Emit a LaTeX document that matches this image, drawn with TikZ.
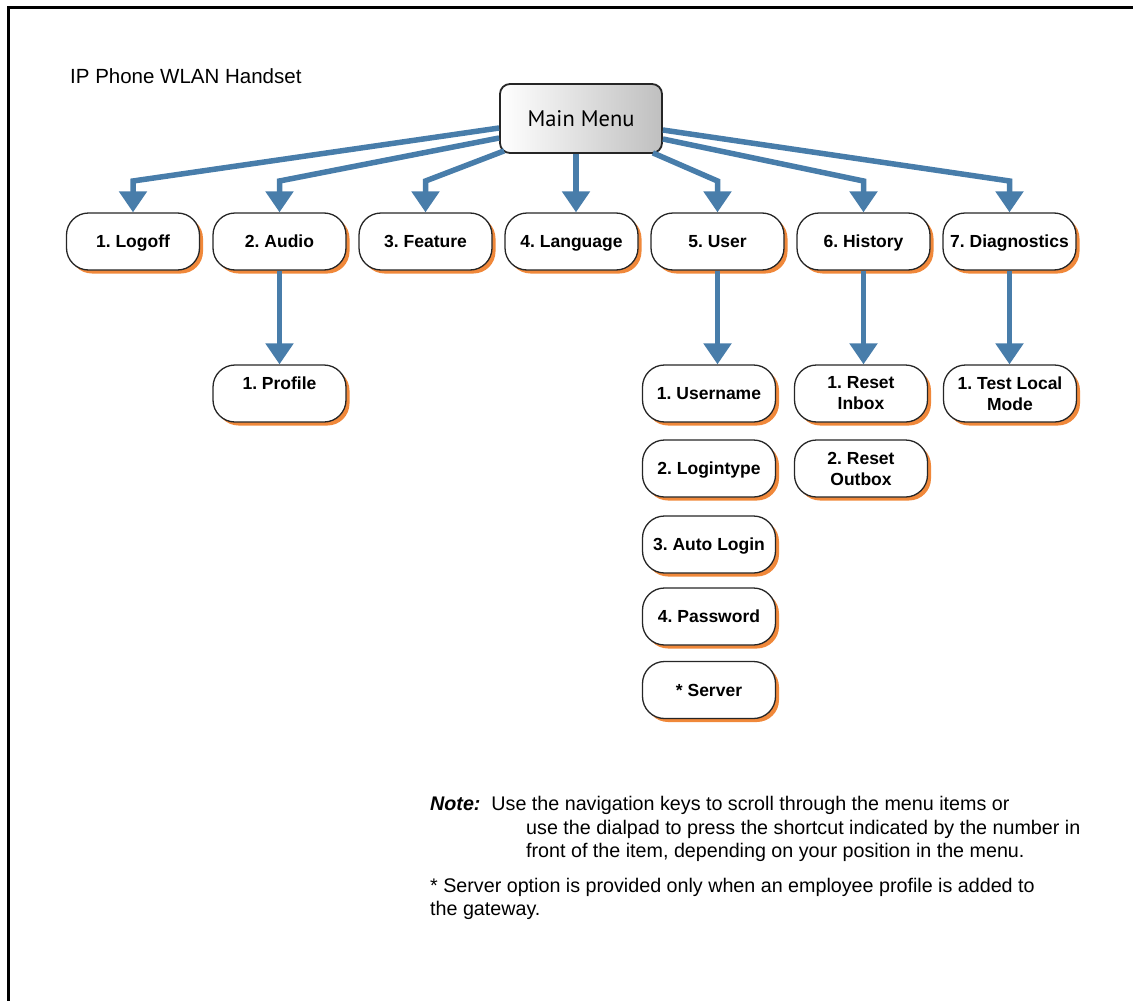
\documentclass[tikz,border=0pt]{standalone}
\usepackage{fontspec}
\setmainfont{Liberation Sans}
\newfontfamily\mmfont{PT Sans}
\usepackage{tikz}
\usetikzlibrary{arrows.meta,shadows,positioning}
\definecolor{linkblue}{RGB}{72,125,170}
\definecolor{boxorange}{RGB}{240,136,58}
\frenchspacing
\tikzset{
  item/.style={draw=black!85, line width=1.3pt, fill=white, rounded corners=22pt,
    minimum width=133pt, minimum height=57pt, inner sep=0pt, align=center,
    font=\bfseries\fontsize{17.5}{21}\selectfont, text height=12.6pt, text depth=0pt,
    drop shadow={shadow xshift=3.5pt, shadow yshift=-3.5pt, fill=boxorange, opacity=1}},
  twoline/.style={item, text height={}, text depth={}},
  mainbox/.style={draw=black!85, line width=1.8pt, rounded corners=10pt,
    left color=white, right color=black!25, minimum width=162pt, minimum height=69pt,
    font=\mmfont\fontsize{22.5}{26}\selectfont},
  link/.style={draw=linkblue, line width=5.5pt, -{Triangle[width=27pt,length=21pt]}},
  notetext/.style={anchor=base west, inner sep=0pt, font=\fontsize{19.7}{23.5}\selectfont},
}
\begin{document}
\begin{tikzpicture}[x=1pt,y=-1pt]
      \useasboundingbox (0,0) rectangle (1133,1001);
      \draw[line width=2.7pt] (8.5,1001) -- (8.5,7.5) -- (1133,7.5);

      \node[anchor=base west, inner sep=0pt, font=\fontsize{20.5}{24}\selectfont] (ttl) at (70,83) {IP Phone WLAN Handset};

      \node[mainbox] (mm) at (581,118.5) {Main Menu};
      \coordinate (k) at (0,181);

      \node[item] (b1) at (133,241.5) {1. Logoff};
      \node[item] (b2) at (279.5,241.5) {2. Audio};
      \node[item] (b3) at (425.5,241.5) {3. Feature};
      \node[item] (b4) at (571.5,241.5) {4. Language};
      \node[item] (b5) at (717.5,241.5) {5. User};
      \node[item] (b6) at (863.5,241.5) {6. History};
      \node[item] (b7) at (1009.5,241.5) {7. Diagnostics};

      \node[twoline] (p1) at (279.5,393.5) {1. Profile\\ \mbox{}};

      \node[item] (u1) at (709,393.5) {1. Username};
      \node[item] (u2) at (709,468.5) {2. Logintype};
      \node[item] (u3) at (709,544.5) {3. Auto Login};
      \node[item] (u4) at (709,616.5) {4. Password};
      \node[item] (u5) at (709,690) {* Server};

      \node[twoline] (h1) at (861,393.5) {1. Reset\\Inbox};
      \node[twoline] (h2) at (861,468.5) {2. Reset\\Outbox};

      \node[twoline] (d1) at (1010,393.5) {1. Test Local\\Mode};

      \draw[link] ([yshift=-9.5pt]mm.west) -- (b1 |- k) -- (b1);
      \draw[link] ([yshift=-19.5pt]mm.west) -- (b2 |- k) -- (b2);
      \draw[link] ([shift={(5pt,3pt)}]mm.south west) -- (b3 |- k) -- (b3);
      \draw[link] ([xshift=-5pt]mm.south) -- ([xshift=-5pt]mm.south |- b4.north);
      \draw[link] ([shift={(-10pt,1pt)}]mm.south east) -- (b5 |- k) -- (b5);
      \draw[link] ([yshift=-20.5pt]mm.east) -- (b6 |- k) -- (b6);
      \draw[link] ([yshift=-11.5pt]mm.east) -- (b7 |- k) -- (b7);

      \draw[link] (b2) -- (p1);
      \draw[link] (b5.south) -- (b5.south |- u1.north);
      \draw[link] (b6.south) -- (b6.south |- h1.north);
      \draw[link] (b7.south) -- (b7.south |- d1.north);

      \node[notetext] (n1) at (430,810) {\textbf{\textit{Note:}}\ \ Use the navigation keys to scroll through the menu items or};
      \node[notetext] (n2) at (526,834) {use the dialpad to press the shortcut indicated by the number in};
      \node[notetext] (n3) at (526,857) {front of the item, depending on your position in the menu.};
      \node[notetext] (s1) at (430,892) {* Server option is provided only when an employee profile is added to};
      \node[notetext] (s2) at (430,915) {the gateway.};
    \end{tikzpicture}
\end{document}
